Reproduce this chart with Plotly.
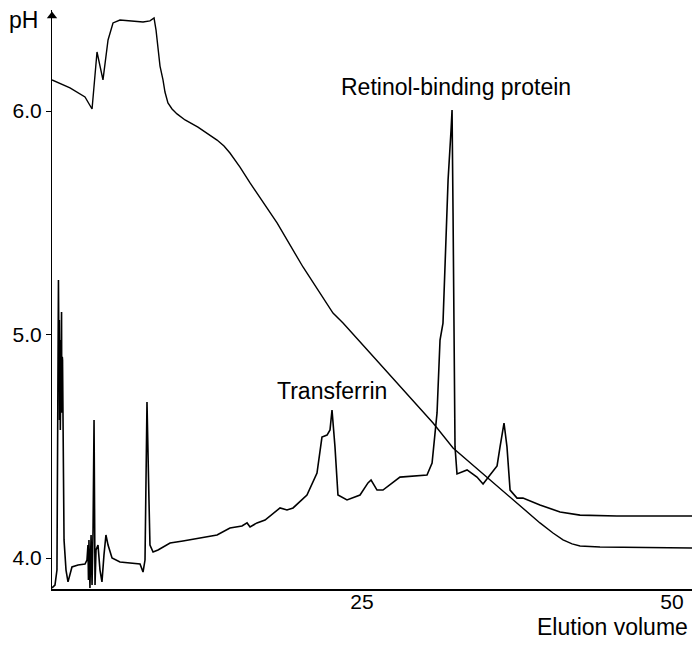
import plotly.graph_objects as go

# pH gradient curve
ph_vol = [0.00, 1.45, 2.66, 3.23, 3.63, 4.11, 4.52, 4.92, 5.48, 7.34, 7.90, 8.23, 8.39, 8.55,
          8.71, 8.95, 9.11, 9.35, 9.68, 10.08, 10.73, 11.77, 12.50, 13.31, 13.87, 14.35, 15.16,
          15.97, 18.15, 20.24, 22.66, 23.47, 25.65, 28.31, 30.73, 32.34, 35.08, 37.18, 39.35,
          40.40, 41.21, 41.94, 42.58, 44.19, 51.61]
ph_val = [6.139, 6.103, 6.063, 6.009, 6.264, 6.139, 6.318, 6.394, 6.407, 6.398, 6.403, 6.416,
          6.362, 6.273, 6.201, 6.139, 6.085, 6.036, 6.009, 5.987, 5.960, 5.928, 5.902, 5.870,
          5.843, 5.812, 5.749, 5.678, 5.499, 5.302, 5.096, 5.051, 4.917, 4.752, 4.604, 4.492,
          4.362, 4.260, 4.157, 4.112, 4.081, 4.063, 4.054, 4.049, 4.045]

# absorbance (protein) trace, drawn on the same pH scale
abs_vol = [0.00, 0.24, 0.40, 0.48, 0.52, 0.56, 0.59, 0.61, 0.63, 0.65, 0.67, 0.69, 0.71, 0.73,
           0.75, 0.77, 0.79, 0.81, 0.83, 0.85, 0.87, 0.89, 0.93, 0.97, 1.13, 1.29, 1.45, 1.61,
           2.10, 2.66, 2.82, 2.90, 2.94, 2.98, 3.06, 3.15, 3.23, 3.31, 3.39, 3.47, 3.55, 3.71,
           3.87, 4.03, 4.19, 4.35, 4.52, 4.84, 5.48, 6.29, 7.10, 7.34, 7.50, 7.66, 7.74, 7.82,
           7.90, 8.15, 8.55, 9.52, 10.56, 11.94, 13.31, 14.35, 15.32, 15.73, 15.97, 16.53, 17.18,
           18.39, 18.95, 19.44, 20.56, 21.37, 21.77, 22.18, 22.42, 22.58, 22.82, 23.06, 23.79,
           24.84, 25.48, 25.73, 26.21, 26.69, 28.06, 30.24, 30.65, 31.05, 31.29, 31.53, 31.94,
           32.18, 32.26, 32.34, 32.50, 32.66, 33.47, 34.27, 34.76, 35.32, 35.89, 36.13, 36.45,
           36.69, 36.94, 37.50, 37.98, 39.35, 40.97, 42.58, 45.56, 51.61]
abs_val = [3.866, 3.879, 3.946, 5.154, 5.244, 4.886, 5.065, 4.617, 4.930, 4.975, 4.573, 4.931,
           4.620, 4.595, 4.980, 5.101, 4.650, 4.707, 4.900, 4.886, 4.600, 4.573, 4.349, 4.081,
           3.946, 3.893, 3.924, 3.960, 3.969, 3.973, 3.991, 4.058, 3.902, 4.081, 3.866, 4.103,
           3.879, 4.125, 4.617, 3.879, 4.036, 4.058, 3.946, 3.893, 4.013, 4.103, 4.058, 4.000,
           3.982, 3.978, 3.973, 3.937, 3.991, 4.698, 4.394, 4.260, 4.058, 4.027, 4.036, 4.067,
           4.076, 4.089, 4.103, 4.134, 4.143, 4.157, 4.139, 4.157, 4.170, 4.224, 4.215, 4.224,
           4.282, 4.380, 4.541, 4.550, 4.573, 4.662, 4.497, 4.282, 4.260, 4.282, 4.336, 4.349,
           4.304, 4.304, 4.362, 4.371, 4.425, 4.649, 4.975, 5.051, 5.691, 5.915, 6.004, 5.544,
           4.497, 4.376, 4.394, 4.362, 4.331, 4.371, 4.412, 4.497, 4.604, 4.497, 4.304, 4.268,
           4.268, 4.237, 4.206, 4.192, 4.188, 4.188]

y_ticks = [4.0, 5.0, 6.0]
y_tick_text = ["4.0", "5.0", "6.0"]
x_ticks = [25, 50]
x_tick_text = ["25", "50"]

peak_labels = ["Transferrin", "Retinol-binding protein"]
peak_label_vol = [22.6, 32.6]
peak_label_ph = [4.747, 6.107]

FONT = "Liberation Sans, Arial, sans-serif"

fig = go.Figure()
fig.add_trace(go.Scatter(x=ph_vol, y=ph_val, mode="lines",
                         line=dict(color="black", width=1.4), hoverinfo="skip"))
fig.add_trace(go.Scatter(x=abs_vol, y=abs_val, mode="lines",
                         line=dict(color="black", width=1.6), hoverinfo="skip"))
# arrow head on y axis
fig.add_trace(go.Scatter(x=[0], y=[6.425], mode="markers", cliponaxis=False,
                         marker=dict(symbol="triangle-up", size=9, color="black"),
                         hoverinfo="skip"))

for t, xv, yv in zip(peak_labels, peak_label_vol, peak_label_ph):
    fig.add_annotation(x=xv, y=yv, text=t, showarrow=False, xanchor="center", yanchor="middle",
                       font=dict(family=FONT, size=23, color="black"))

fig.add_annotation(xref="paper", yref="paper", x=-0.019, y=0.983, text="pH", showarrow=False,
                   xanchor="right", yanchor="middle", font=dict(family=FONT, size=23, color="black"))
fig.add_annotation(xref="paper", yref="paper", x=0.997, y=-0.065, text="Elution volume",
                   showarrow=False, xanchor="right", yanchor="middle",
                   font=dict(family=FONT, size=23, color="black"))

fig.update_layout(
    width=692, height=653,
    margin=dict(l=52, r=0, t=10, b=64),
    paper_bgcolor="white", plot_bgcolor="white",
    showlegend=False,
    font=dict(family=FONT, size=21, color="black"),
    xaxis=dict(range=[0, 51.61], tickvals=x_ticks, ticktext=x_tick_text, ticks="",
               ticklabelstandoff=-7,
               showgrid=False, zeroline=False, showline=True, linecolor="black", linewidth=1.5,
               tickfont=dict(family=FONT, size=21, color="black")),
    yaxis=dict(range=[3.8613, 6.4519], tickvals=y_ticks, ticktext=y_tick_text, ticks="outside",
               ticklen=5, tickwidth=1, tickcolor="black",
               showgrid=False, zeroline=False, showline=True, linecolor="black", linewidth=1,
               tickfont=dict(family=FONT, size=21, color="black")),
)

fig.write_html("out.html")
